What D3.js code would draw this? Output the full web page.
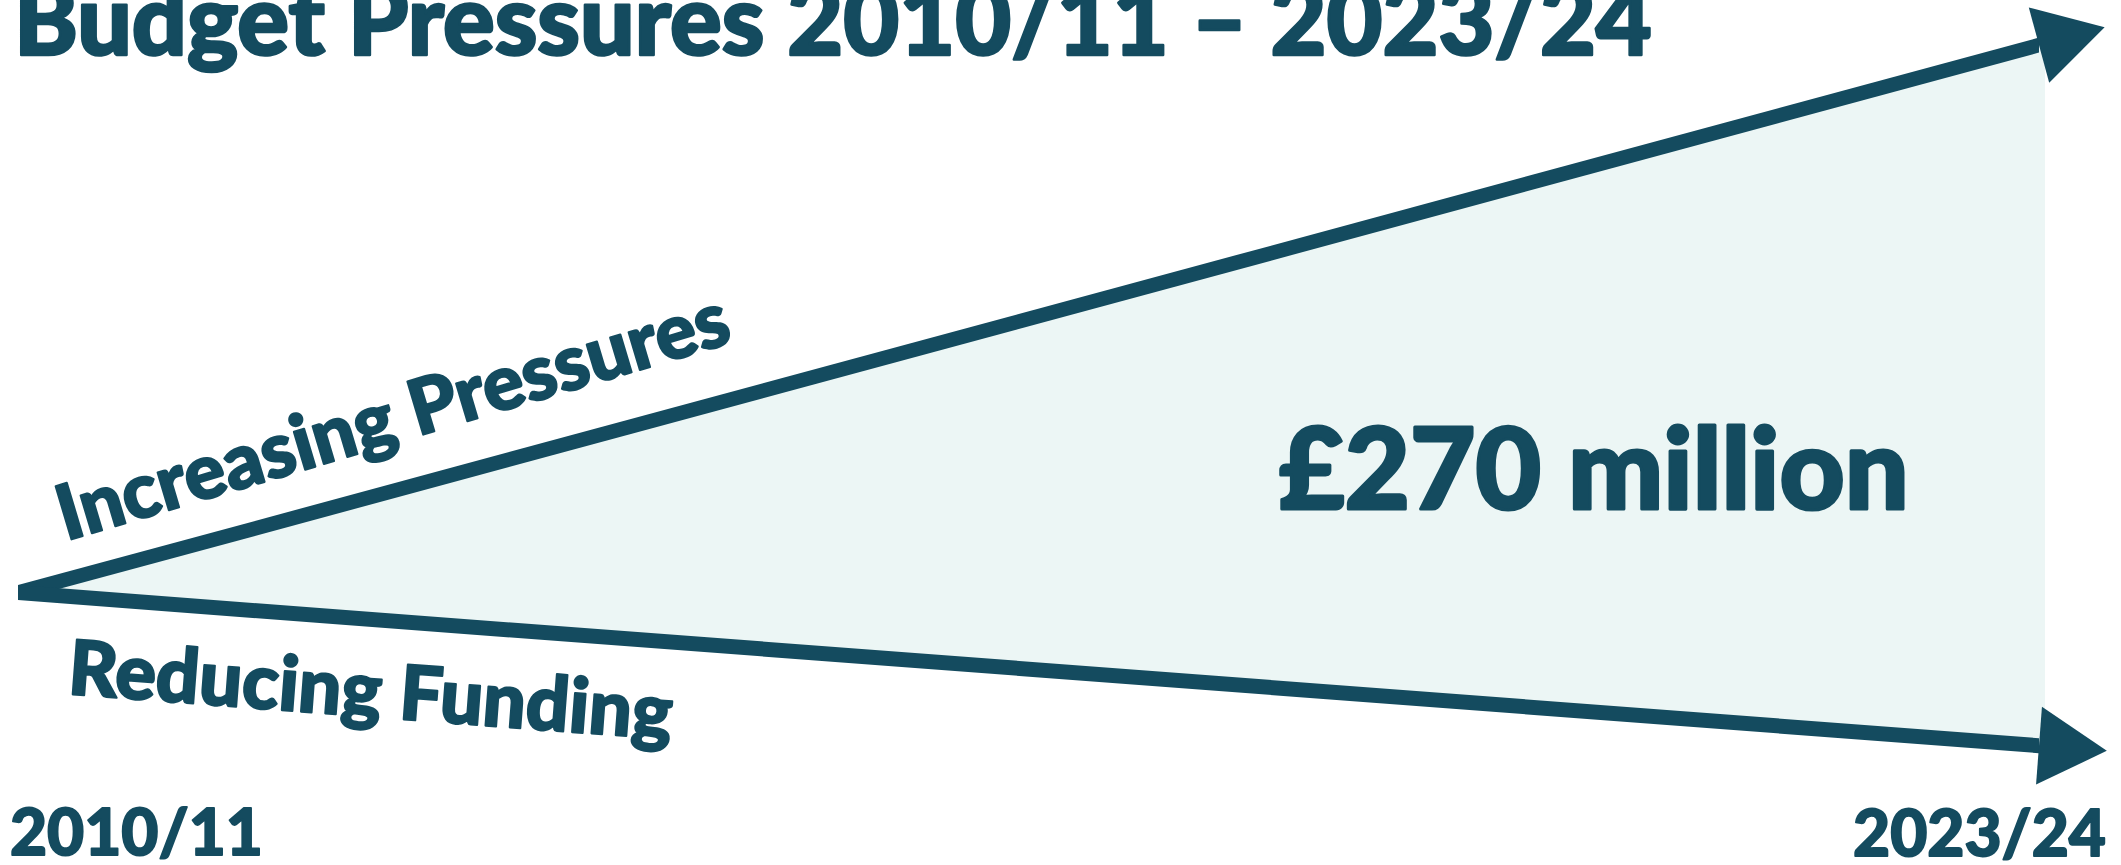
<!DOCTYPE html>
<html>
<head>
<meta charset="utf-8">
<script src="https://cdn.jsdelivr.net/npm/d3@7"></script>
<style>
  html, body { margin: 0; padding: 0; background: #ffffff; }
  svg { display: block; }
  text { font-family: Lato, "Open Sans", sans-serif; font-weight: 900; fill: #144b5f; stroke: #144b5f; stroke-linejoin: round; }
</style>
</head>
<body>
<svg id="chart"></svg>
<script>
// Budget gap: cumulative change in £m from the base year
const periods = ["2010/11", "2023/24"];
const pressures = [0, 211];   // rising spending pressures
const funding = [0, -59];     // falling funding
const titleText = "Budget Pressures 2010/11 \u2013 2023/24";
const pressureLabel = "Increasing Pressures";
const fundingLabel = "Reducing Funding";

const W = 2121, H = 865;
const dark = "#144b5f";
const light = "#ecf6f5";

const svg = d3.select("#chart").attr("width", W).attr("height", H);

const x = d3.scalePoint().domain(periods).range([18, 2039]);
const y = d3.scaleLinear().domain([-59, 211]).range([745.7, 45.1]);

const gap = pressures[pressures.length - 1] - funding[funding.length - 1];

const topPts = periods.map((p, i) => [x(p), y(pressures[i])]);
const botPts = periods.map((p, i) => [x(p), y(funding[i])]);

// shaded gap between the two trends
const fillEnd = 2045;
const lerp = (pts, xv) => {
  const [a, b] = pts;
  return a[1] + (b[1] - a[1]) * (xv - a[0]) / (b[0] - a[0]);
};
svg.append("polygon")
  .attr("points", [
    topPts[0],
    [fillEnd, lerp(topPts, fillEnd)],
    [fillEnd, lerp(botPts, fillEnd)]
  ].map(p => p.join(",")).join(" "))
  .attr("fill", light);

// thick trend bands with vertical ends
const half = 7.5;
function band(pts) {
  const [a, b] = pts;
  return [[a[0], a[1] - half], [b[0], b[1] - half], [b[0], b[1] + half], [a[0], a[1] + half]]
    .map(p => p.join(",")).join(" ");
}
function arrowHead(pts) {
  const [a, b] = pts;
  const dx = b[0] - a[0], dy = b[1] - a[1];
  const len = Math.hypot(dx, dy);
  const ux = dx / len, uy = dy / len;
  const px = -uy, py = ux;
  const L = 68, Hw = 39;
  return [
    [b[0] + ux * L, b[1] + uy * L],
    [b[0] + px * Hw, b[1] + py * Hw],
    [b[0] - px * Hw, b[1] - py * Hw]
  ].map(p => p.join(",")).join(" ");
}
[topPts, botPts].forEach(pts => {
  svg.append("polygon").attr("points", band(pts)).attr("fill", dark);
  svg.append("polygon").attr("points", arrowHead(pts)).attr("fill", dark);
});

// heavy text helper: a thin outline thickens the glyphs
function label(sel, size) {
  return sel.attr("font-size", size).attr("stroke-width", size * 0.028);
}

// title
label(svg.append("text"), 96.5)
  .attr("x", 14).attr("y", 55)
  .text(titleText);

// trend labels
label(svg.append("text"), 76.5)
  .attr("transform", "translate(66,541) rotate(-16.6)")
  .text(pressureLabel);

label(svg.append("text"), 76)
  .attr("transform", "translate(67,694) rotate(4.3)")
  .text(fundingLabel);

// gap value
label(svg.append("text"), 113)
  .attr("x", 1279).attr("y", 509)
  .text("\u00a3" + gap + " million");

// period labels
label(svg.append("text"), 64)
  .attr("x", 10).attr("y", 855)
  .text(periods[0]);

label(svg.append("text"), 64)
  .attr("x", 2106).attr("y", 856)
  .attr("text-anchor", "end")
  .text(periods[1]);
</script>
</body>
</html>
